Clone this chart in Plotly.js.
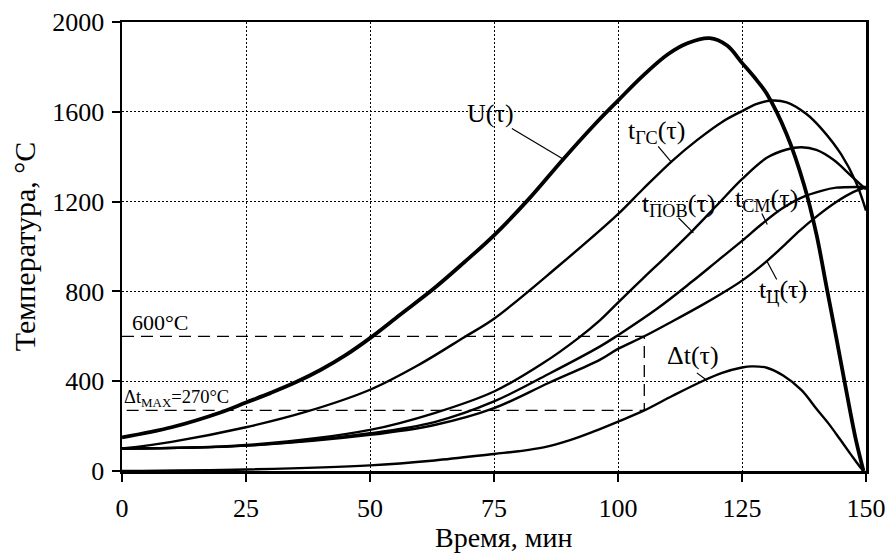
<!DOCTYPE html>
<html>
<head>
<meta charset="utf-8">
<script src="https://cdn.plot.ly/plotly-3.0.1.min.js"></script>
<style>html,body{margin:0;padding:0;background:#fff;}#chart{width:888px;height:556px;}</style>
</head>
<body>
<div id="chart"></div>
<script>
// ---- data ----
const tU   = [0,10,20,25,30,35,40,45,50,56,63,69,75,82,89,96,100,105,110,114,118.5,122,125,128,130,134,137.5,140,142,144,146,148,149.5];
const vU   = [150,195,262,305,348,395,450,515,592,695,815,930,1050,1211,1390,1560,1650,1760,1855,1905,1928,1895,1818,1740,1680,1500,1275,1055,825,595,360,135,0];

const tGS  = [0,10,25,37,50,60,69,75,88,100,105,111,116,121,125,128,131,134,138,141,145,148,150];
const vGS  = [100,130,195,263,362,475,596,678,913,1144,1255,1383,1475,1555,1603,1635,1650,1642,1590,1525,1410,1285,1160];

const tPOV = [0,25,50,63,75,85,92,96.4,100,105,110,115,120,125,130,134,137,140,143.5,147,150];
const vPOV = [100,116,183,258,354,482,592,672,750,857,962,1070,1185,1300,1395,1432,1442,1430,1385,1315,1255];

const tSM  = [0,25,50,63,75,86,96.4,100,108,115,120,125,129,133,137,141,144,150];
const vSM  = [100,113,168,218,310,432,555,605,725,845,935,1025,1100,1168,1218,1248,1262,1265];

const tC   = [0,25,50,63,75,86,96.4,100,105.3,111,117,121,125,130,133,136.7,140,144,147.5,150];
const vC   = [100,113,161,205,280,392,496,544,600,667,740,792,848,935,995,1072,1133,1198,1243,1264];

const tDT  = [0,25,50,63,75,80,85,90,95,100,105.3,111,117.2,121,125,127,130,133.3,137,140,142.5,144.8,147,148.8,149.5];
const vDT  = [0,7,25,47,76,88,105,135,175,220,270,335,402,437,461,466,460,425,360,277,210,140,72,18,0];

const tMark = 105.3;   // moment when the centre reaches 600 °C
const level600 = 600;
const dtMax = 270;

const xTicks = [0,25,50,75,100,125,150];
const yTicks = [0,400,800,1200,1600,2000];

// ---- traces ----
const serif = 'Liberation Serif';
function curve(x, y, w) {
  return {x: x, y: y, type: 'scatter', mode: 'lines',
          line: {color: '#000', width: w, shape: 'spline', smoothing: 1},
          hoverinfo: 'skip', showlegend: false};
}
const traces = [
  {x: [0, tMark, tMark, 0], y: [level600, level600, dtMax, dtMax], type: 'scatter', mode: 'lines',
   line: {color: '#000', width: 1.3, dash: '12px,7px'}, hoverinfo: 'skip', showlegend: false},
  curve(tDT, vDT, 2.4),
  curve(tC, vC, 2.4),
  curve(tSM, vSM, 2.4),
  curve(tPOV, vPOV, 2.4),
  curve(tGS, vGS, 2.4),
  curve(tU, vU, 3.8)
];

// ---- labels ----
const labels = [
  {text: 'U(τ)', x: 74.2, y: 1592, lx: [78.6, 89.0], ly: [1526, 1389]},
  {text: 't<sub>ГС</sub>(τ)', x: 107.8, y: 1512, lx: [108.1, 110.8], ly: [1446, 1375]},
  {text: 't<sub>ПОВ</sub>(τ)', x: 112.1, y: 1183, lx: [112.2, 115.2], ly: [1128, 1061]},
  {text: 't<sub>СМ</sub>(τ)', x: 130.0, y: 1205, lx: [129.0, 130.1], ly: [1147, 1098]},
  {text: 't<sub>Ц</sub>(τ)', x: 133.2, y: 804, lx: [130.0, 132.0], ly: [935, 853]},
  {text: 'Δt(τ)', x: 115.1, y: 514, lx: [115.9, 117.9], ly: [437, 404]}
];
const annotations = labels.map(l => ({
  text: l.text, x: l.x, y: l.y, xref: 'x', yref: 'y', showarrow: false,
  font: {family: serif, size: 26, color: '#000'}, xanchor: 'center', yanchor: 'middle'
}));
annotations.push({text: '600°C', x: 7.7, y: 661, xref: 'x', yref: 'y', showarrow: false,
  font: {family: serif, size: 22, color: '#000'}});
annotations.push({text: 'Δt<sub>MAX</sub>=270°C', x: 11.0, y: 323, xref: 'x', yref: 'y', showarrow: false,
  font: {family: serif, size: 18.5, color: '#000'}});
// x-axis title placed as a paper annotation so it sits just under the tick labels
annotations.push({text: 'Время, мин', xref: 'paper', yref: 'paper', x: 0.513, y: -0.147,
  xanchor: 'center', yanchor: 'middle', showarrow: false, borderpad: 0,
  font: {family: serif, size: 28, color: '#000'}});

const shapes = labels.map(l => ({
  type: 'line', xref: 'x', yref: 'y', x0: l.lx[0], y0: l.ly[0], x1: l.lx[1], y1: l.ly[1],
  line: {color: '#000', width: 1.2}
}));

const layout = {
  width: 888, height: 556,
  margin: {l: 122, r: 22, t: 22, b: 85},
  paper_bgcolor: '#fff', plot_bgcolor: '#fff',
  font: {family: serif, size: 26, color: '#000'},
  showlegend: false,
  xaxis: {
    range: [0, 150], tickvals: xTicks, ticktext: xTicks.map(String),
    showgrid: true, gridcolor: '#000', gridwidth: 1, griddash: '2px,2px',
    showline: true, linecolor: '#000', linewidth: 2.5, mirror: true,
    ticks: 'outside', ticklen: 8, tickwidth: 2, tickcolor: '#000',
    zeroline: false, ticklabelstandoff: 4,
    tickfont: {family: serif, size: 26, color: '#000'}
  },
  yaxis: {
    range: [0, 2000], tickvals: yTicks, ticktext: yTicks.map(String),
    showgrid: true, gridcolor: '#000', gridwidth: 1, griddash: '2px,2px',
    showline: true, linecolor: '#000', linewidth: 2.5, mirror: true,
    ticks: 'outside', ticklen: 8, tickwidth: 2, tickcolor: '#000',
    zeroline: false, ticklabelstandoff: 2,
    tickfont: {family: serif, size: 26, color: '#000'},
    title: {text: 'Температура, °C', font: {family: serif, size: 30, color: '#000'}, standoff: 8}
  },
  annotations: annotations,
  shapes: shapes
};

Plotly.newPlot('chart', traces, layout, {staticPlot: true, displayModeBar: false});
</script>
</body>
</html>
